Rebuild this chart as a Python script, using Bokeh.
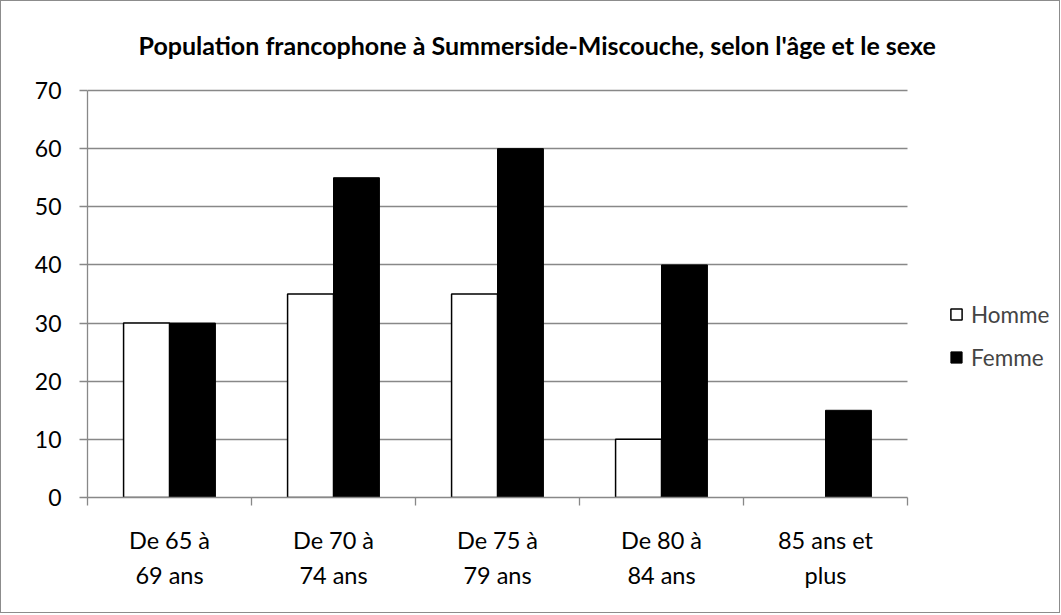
from bokeh.plotting import figure
from bokeh.models import (ColumnDataSource, FixedTicker, Legend, LegendItem,
                          Range1d, CDSView, BooleanFilter, Label)
from bokeh.embed import file_html
from bokeh.resources import INLINE

categories = ["De 65 à\n69 ans", "De 70 à\n74 ans", "De 75 à\n79 ans",
              "De 80 à\n84 ans", "85 ans et\nplus"]
homme = [30, 35, 35, 10, 0]
femme = [30, 55, 60, 40, 15]
y_ticks = [0, 10, 20, 30, 40, 50, 60, 70]
title_text = "Population francophone à Summerside-Miscouche, selon l'âge et le sexe"

FONT = "Lato"
GRAY = "#888888"

n = len(categories)
idx = list(range(n))
centers = [i + 0.5 for i in idx]
bw = 0.28
src = ColumnDataSource(dict(
    xh=[c - bw / 2 for c in centers],
    xf=[c + bw / 2 for c in centers],
    homme=homme, femme=femme))

# layout (pixels)
CAT_PX = 164            # width of one category
PLOT_H = 407            # height of the 0..70 value area
FRAME_W = 970           # frame also hosts the legend on its right
FRAME_TOP = 10          # frame also hosts the title above the value area
FRAME_H = 496 - FRAME_TOP
y_max = y_ticks[-1]
px_per_unit = PLOT_H / y_max

p = figure(frame_width=FRAME_W, frame_height=FRAME_H,
           min_border_left=86, min_border_top=FRAME_TOP,
           min_border_bottom=115, min_border_right=2,
           x_range=Range1d(0, FRAME_W / CAT_PX),
           y_range=Range1d(0, FRAME_H / px_per_unit),
           output_backend="svg", toolbar_location=None,
           styles={"border": "1px solid #8c8c8c"})
p.outline_line_color = None
p.background_fill_color = "white"
p.border_fill_color = "white"

# title (inside the frame, above the value area)
title = Label(x=(137 - 86) / CAT_PX, y=(496 - 43) / px_per_unit,
              text=title_text, text_font=FONT, text_font_style="bold",
              text_font_size="25px", text_color="black",
              text_align="left", text_baseline="middle")
p.add_layout(title)

# bars
hview = CDSView(filter=BooleanFilter([v != 0 for v in homme]))
rh = p.vbar(x="xh", top="homme", width=bw, source=src, view=hview,
            fill_color="white", line_color="black", line_width=1.5)
rf = p.vbar(x="xf", top="femme", width=bw, source=src,
            fill_color="black", line_color="black", line_width=1)

# grid / axes
p.xgrid.visible = False
p.ygrid.grid_line_color = GRAY
p.ygrid.grid_line_width = 1.3
p.ygrid.ticker = FixedTicker(ticks=y_ticks)
p.ygrid.bounds = (0, y_max)
p.ygrid.cross_bounds = (0, n)

ya = p.yaxis[0]
ya.bounds = (0, y_max)
ya.ticker = FixedTicker(ticks=y_ticks)
ya.axis_line_color = GRAY
ya.axis_line_width = 1.3
ya.major_tick_line_color = GRAY
ya.major_tick_line_width = 1.3
ya.major_tick_out = 8
ya.major_tick_in = 0
ya.minor_tick_line_color = None
ya.major_label_text_font = FONT
ya.major_label_text_font_size = "23px"
ya.major_label_text_color = "black"
ya.major_label_standoff = 18

xa = p.xaxis[0]
xa.bounds = (0, n)
xa.ticker = FixedTicker(ticks=centers, minor_ticks=[0] + [i + 1 for i in idx])
xa.major_label_overrides = {c: lab for c, lab in zip(centers, categories)}
xa.axis_line_color = GRAY
xa.axis_line_width = 1.3
xa.major_tick_line_color = None
xa.major_tick_out = 0
xa.major_tick_in = 0
xa.minor_tick_line_color = GRAY
xa.minor_tick_line_width = 1.3
xa.minor_tick_out = 8
xa.minor_tick_in = 0
xa.major_label_text_font = FONT
xa.major_label_text_font_size = "23.5px"
xa.major_label_text_color = "black"
xa.major_label_standoff = 20
xa.major_label_text_line_height = 1.26

legend = Legend(items=[LegendItem(label="Homme", renderers=[rh]),
                       LegendItem(label="Femme", renderers=[rf])],
                location=(862, 126), orientation="vertical")
legend.label_text_font = FONT
legend.label_text_font_size = "22.5px"
legend.label_height = 28
legend.glyph_width = 14
legend.glyph_height = 14
legend.spacing = 15
legend.label_standoff = 8
legend.border_line_color = None
legend.background_fill_alpha = 0
legend.margin = 0
legend.padding = 0
p.add_layout(legend, "center")

open("out.html", "w").write(file_html(p, INLINE))
